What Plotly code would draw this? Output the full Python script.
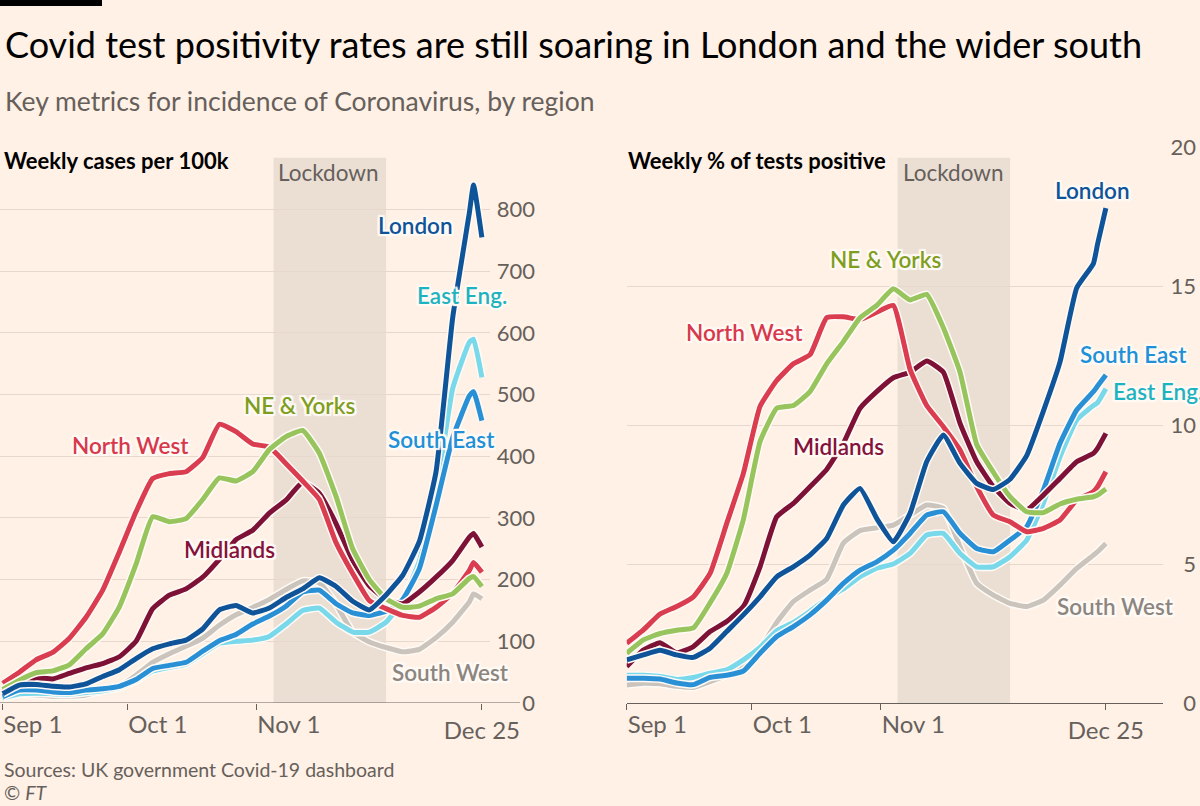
import pandas as pd
import plotly.graph_objects as go

# Sampled every 4 days (plus Dec 23) from 1 Sep to 25 Dec 2020
DATES = ["2020-09-01", "2020-09-05", "2020-09-09", "2020-09-13", "2020-09-17",
         "2020-09-21", "2020-09-25", "2020-09-29", "2020-10-03", "2020-10-07",
         "2020-10-11", "2020-10-15", "2020-10-19", "2020-10-23", "2020-10-27",
         "2020-10-31", "2020-11-04", "2020-11-08", "2020-11-12", "2020-11-16",
         "2020-11-20", "2020-11-24", "2020-11-28", "2020-12-02", "2020-12-06",
         "2020-12-10", "2020-12-14", "2020-12-18", "2020-12-22", "2020-12-23",
         "2020-12-25"]

LOCKDOWN = ["2020-11-05", "2020-12-02"]
X_TICKS = ["2020-09-01", "2020-10-01", "2020-11-01"]
X_TICK_TEXT = ["Sep 1", "Oct 1", "Nov 1"]
LAST_TICK = "2020-12-25"
LAST_TICK_TEXT = "Dec 25"
CASES_TICKS = [0, 100, 200, 300, 400, 500, 600, 700, 800]
POS_TICKS = [0, 5, 10, 15, 20]

# Weekly cases per 100k
CASES_SOUTH_WEST = [10, 14, 13, 11, 11, 13, 20, 27, 45, 66, 80, 92, 105, 126, 143, 155,
                    168, 184, 198, 195, 160, 115, 99, 90, 83, 87, 106, 131, 164, 177, 169]
CASES_EAST = [8, 15, 16, 15, 14, 17, 20, 25, 36, 52, 58, 63, 80, 97, 100, 102,
              108, 128, 150, 154, 131, 115, 115, 131, 166, 230, 340, 510, 585, 590, 528]
CASES_SOUTH_EAST = [10, 21, 21, 18, 17, 21, 23, 27, 38, 56, 61, 66, 84, 101, 111, 128,
                    141, 157, 180, 183, 161, 146, 142, 149, 168, 218, 320, 430, 498, 505, 458]
CASES_MIDLANDS = [19, 30, 41, 39, 48, 57, 64, 75, 100, 153, 175, 185, 204, 233, 265, 280,
                  308, 329, 358, 340, 291, 231, 190, 168, 161, 180, 204, 231, 269, 275, 253]
CASES_NORTH_WEST = [32, 50, 70, 82, 105, 139, 183, 245, 310, 364, 372, 375, 398, 452, 440, 420,
                    415, 388, 360, 330, 260, 210, 166, 153, 142, 139, 155, 178, 215, 228, 212]
CASES_NE_YORKS = [22, 37, 49, 52, 62, 88, 112, 156, 225, 302, 294, 299, 330, 365, 360, 375,
                  411, 432, 442, 405, 335, 250, 200, 169, 155, 157, 169, 177, 202, 205, 189]
CASES_LONDON = [15, 29, 30, 27, 26, 31, 43, 54, 72, 88, 96, 102, 120, 151, 158, 146,
                154, 171, 185, 203, 189, 165, 151, 175, 207, 262, 375, 625, 795, 840, 755]

# Weekly % of tests positive
POS_SOUTH_WEST = [0.65, 0.71, 0.69, 0.6, 0.56, 0.77, 1.0, 1.3, 1.95, 2.9, 3.65, 4.06, 4.45, 5.75, 6.2, 6.3,
                  6.4, 6.76, 7.12, 7.0, 5.62, 4.3, 3.88, 3.58, 3.47, 3.7, 4.24, 4.84, 5.32, 5.44, 5.74]
POS_EAST = [1.0, 1.0, 0.95, 0.85, 0.92, 1.07, 1.19, 1.55, 2.0, 2.6, 2.9, 3.3, 3.75, 4.1, 4.55, 4.85,
            5.0, 5.38, 6.04, 6.1, 5.38, 4.9, 4.9, 5.26, 5.86, 7.18, 8.86, 10.18, 10.7, 10.8, 11.3]
POS_SOUTH_EAST = [0.89, 0.89, 0.86, 0.72, 0.66, 0.92, 1.0, 1.15, 1.79, 2.39, 2.75, 3.17, 3.7, 4.3, 4.78, 5.08,
                  5.5, 6.1, 6.76, 6.88, 6.1, 5.56, 5.44, 5.86, 6.34, 7.66, 9.34, 10.54, 11.2, 11.4, 11.8]
POS_MIDLANDS = [1.31, 1.9, 2.17, 1.8, 2.03, 2.57, 2.93, 3.47, 4.9, 6.7, 7.18, 7.78, 8.4, 9.34, 10.6, 11.2,
                11.7, 11.9, 12.3, 11.9, 10.06, 8.68, 7.78, 7.18, 6.95, 7.48, 8.08, 8.68, 8.98, 9.16, 9.7]
POS_NORTH_WEST = [2.15, 2.63, 3.2, 3.47, 3.82, 4.66, 6.46, 8.26, 10.67, 11.6, 12.2, 12.53, 13.86, 13.89, 13.8, 14.06,
                  14.3, 12.0, 10.7, 9.94, 9.1, 7.78, 6.76, 6.52, 6.16, 6.28, 6.58, 7.3, 7.6, 7.78, 8.32]
POS_NE_YORKS = [1.79, 2.27, 2.5, 2.62, 2.7, 3.6, 4.66, 6.6, 9.4, 10.6, 10.7, 11.2, 12.2, 13.0, 13.86, 14.3,
                14.9, 14.5, 14.7, 13.5, 11.9, 9.3, 8.3, 7.42, 6.88, 6.85, 7.16, 7.33, 7.42, 7.48, 7.7]
POS_LONDON = [1.55, 1.73, 1.9, 1.73, 1.64, 1.97, 2.57, 3.17, 3.82, 4.54, 4.9, 5.32, 5.92, 7.12, 7.72, 6.64,
              5.8, 6.82, 8.68, 9.64, 8.62, 7.9, 7.68, 8.05, 8.9, 10.5, 12.27, 14.93, 15.8, 16.5, 17.8]

# FT palette
BG = "#fff1e5"
GRID = "#e6d8cc"
AXIS = "#66605c"
SHADE = "#ebdfd4"
FONT = "Lato"

# region -> (line colour, label colour), drawing order bottom to top
REGIONS = {
    "South West": ("#cbc4bd", "#8c8580"),
    "East Eng.": ("#79d8ea", "#1eb3c0"),
    "South East": ("#2a90d6", "#2090d8"),
    "Midlands": ("#7e1236", "#85123a"),
    "North West": ("#da3d4f", "#d8384c"),
    "NE & Yorks": ("#97c45c", "#7f9e1f"),
    "London": ("#0f5499", "#0f5499"),
}
CASES = {"South West": CASES_SOUTH_WEST, "East Eng.": CASES_EAST, "South East": CASES_SOUTH_EAST,
         "Midlands": CASES_MIDLANDS, "North West": CASES_NORTH_WEST, "NE & Yorks": CASES_NE_YORKS,
         "London": CASES_LONDON}
POSITIVE = {"South West": POS_SOUTH_WEST, "East Eng.": POS_EAST, "South East": POS_SOUTH_EAST,
            "Midlands": POS_MIDLANDS, "North West": POS_NORTH_WEST, "NE & Yorks": POS_NE_YORKS,
            "London": POS_LONDON}

W, H = 1200, 806
DAY_PX = 125 / 30  # pixels per day on both panels


def fx(x):
    return x / W


def fy(y):
    return 1 - y / H


def date_range_for(px_left, px_right, px_sep1):
    sep1 = pd.Timestamp("2020-09-01")
    start = sep1 + pd.Timedelta(days=(px_left - px_sep1) / DAY_PX)
    end = sep1 + pd.Timedelta(days=(px_right - px_sep1) / DAY_PX)
    return [start.strftime("%Y-%m-%d %H:%M"), end.strftime("%Y-%m-%d %H:%M")]


Y0_PX, YTOP_PX = 703, 147
LEFT = (0, 490, 2.7)          # plot left, plot right, Sep 1 position
RIGHT = (626.7, 1163, 626.7)

fig = go.Figure()


def add_panel(data, xa, ya):
    for name, (line_col, _) in REGIONS.items():
        fig.add_trace(go.Scatter(x=DATES, y=data[name], xaxis=xa, yaxis=ya, mode="lines",
                                 line=dict(color="#fffaf5", width=8, shape="spline", smoothing=0.4),
                                 hoverinfo="skip", showlegend=False))
        fig.add_trace(go.Scatter(x=DATES, y=data[name], xaxis=xa, yaxis=ya, mode="lines",
                                 line=dict(color=line_col, width=5, shape="spline", smoothing=0.4),
                                 name=name, showlegend=False))


add_panel(CASES, "x", "y")
add_panel(POSITIVE, "x2", "y2")

# empty traces so the overlay axes carrying the "Dec 25" tick get drawn
for xa, ya in (("x3", "y"), ("x4", "y2")):
    fig.add_trace(go.Scatter(x=[LAST_TICK], y=[None], xaxis=xa, yaxis=ya, mode="lines",
                             hoverinfo="skip", showlegend=False))

tick_font = dict(family=FONT, size=24, color=AXIS)
x_common = dict(type="date", showgrid=False, zeroline=False, ticks="outside", ticklen=6,
                tickwidth=1, tickcolor=AXIS, tickfont=tick_font, fixedrange=True, automargin=False)
y_common = dict(showgrid=True, gridcolor=GRID, gridwidth=1, zeroline=False, showline=False,
                ticks="", side="right", anchor="free", ticklabelposition="inside",
                ticklabeloverflow="allow", tickfont=dict(family=FONT, size=22, color=AXIS),
                domain=[fy(Y0_PX), fy(YTOP_PX)], automargin=False, fixedrange=True)

left_range = date_range_for(*LEFT)
right_range = date_range_for(*RIGHT)

fig.update_layout(
    xaxis=dict(x_common, domain=[fx(LEFT[0]), fx(LEFT[1])], range=left_range, anchor="y",
               tickvals=X_TICKS, ticktext=X_TICK_TEXT, ticklabelposition="outside right", showline=False),
    xaxis3=dict(x_common, domain=[fx(LEFT[0]), fx(LEFT[1])], range=left_range, anchor="y",
                overlaying="x", tickvals=[LAST_TICK], ticktext=[LAST_TICK_TEXT], showline=False),
    xaxis2=dict(x_common, domain=[fx(RIGHT[0]), fx(RIGHT[1])], range=right_range, anchor="y2",
                tickvals=X_TICKS, ticktext=X_TICK_TEXT, ticklabelposition="outside right",
                showline=True, linecolor=AXIS, linewidth=1),
    xaxis4=dict(x_common, domain=[fx(RIGHT[0]), fx(RIGHT[1])], range=right_range, anchor="y2",
                overlaying="x2", tickvals=[LAST_TICK], ticktext=[LAST_TICK_TEXT], showline=False),
    yaxis=dict(y_common, range=[0, (Y0_PX - YTOP_PX) / 61.67 * 100], tickvals=CASES_TICKS,
               position=fx(538)),
    yaxis2=dict(y_common, range=[0, (Y0_PX - YTOP_PX) / 27.8], tickvals=POS_TICKS,
                position=fx(1199)),
)

shade_top = fy(157.7)
shapes = [
    # FT corner bar
    dict(type="rect", xref="paper", yref="paper", x0=0, x1=fx(102), y0=fy(6), y1=1,
         fillcolor="#000000", line_width=0),
    # left bottom axis line runs on under the zero label
    dict(type="line", xref="paper", yref="y", x0=0, x1=fx(520), y0=0, y1=0,
         line=dict(color=AXIS, width=1), layer="above"),
]
for xr in ("x", "x2"):
    shapes.append(dict(type="rect", xref=xr, yref="paper", x0=LOCKDOWN[0], x1=LOCKDOWN[1],
                       y0=fy(Y0_PX), y1=shade_top, fillcolor=SHADE, line_width=0, layer="below"))

halo = ", ".join(f"{dx}px {dy}px 1px #fffaf5" for dx in (-2, 0, 2) for dy in (-2, 0, 2))


def label(text, x, y, color, size=22.5, weight=600, anchor="center", shadow=True):
    return dict(text=text, x=fx(x), y=fy(y), xref="paper", yref="paper", xanchor=anchor,
                yanchor="middle", showarrow=False,
                font=dict(family=FONT, size=size, color=color, weight=weight,
                          shadow=halo if shadow else "none"))


annotations = [
    label("Covid test positivity rates are still soaring in London and the wider south",
          3, 44, "#000000", size=36, weight=400, anchor="left", shadow=False),
    label("Key metrics for incidence of Coronavirus, by region",
          3, 101, "#66605c", size=26.5, weight=400, anchor="left", shadow=False),
    label("Weekly cases per 100k", 2, 160, "#000000", size=22, weight=700, anchor="left", shadow=False),
    label("Weekly % of tests positive", 626, 160, "#000000", size=22, weight=700, anchor="left", shadow=False),
    label("Lockdown", 328, 172, AXIS, size=22.5, weight=400, shadow=False),
    label("Lockdown", 953, 172, AXIS, size=22.5, weight=400, shadow=False),
    label("Sources: UK government Covid-19 dashboard", 2, 769, AXIS, size=19.5, weight=400,
          anchor="left", shadow=False),
    label("© <i>FT</i>", 2, 792, AXIS, size=19.5, weight=400, anchor="left", shadow=False),
]

left_labels = [("London", 415, 226), ("East Eng.", 462, 295), ("NE & Yorks", 299, 405),
               ("North West", 130, 445), ("South East", 441, 439), ("Midlands", 229, 549),
               ("South West", 450, 672)]
right_labels = [("London", 1092, 190), ("NE & Yorks", 885, 260), ("North West", 744, 332),
                ("South East", 1133, 354), ("Midlands", 838, 446), ("South West", 1115, 606)]
for name, x, y in left_labels + right_labels:
    annotations.append(label(name, x, y, REGIONS[name][1]))
# in the original this label runs off the right edge of the graphic
annotations.append(label("East Eng.", 1111, 392, REGIONS["East Eng."][1], anchor="left"))

fig.update_layout(
    width=W, height=H, margin=dict(l=0, r=0, t=0, b=0, autoexpand=False),
    paper_bgcolor=BG, plot_bgcolor=BG, showlegend=False,
    shapes=shapes, annotations=annotations,
    font=dict(family=FONT, color=AXIS),
)

# the page's default body margin would push the 1200x806 figure off the window
fig.write_html("out.html", config={"displayModeBar": False},
               post_script="document.body.style.margin = '0';")
